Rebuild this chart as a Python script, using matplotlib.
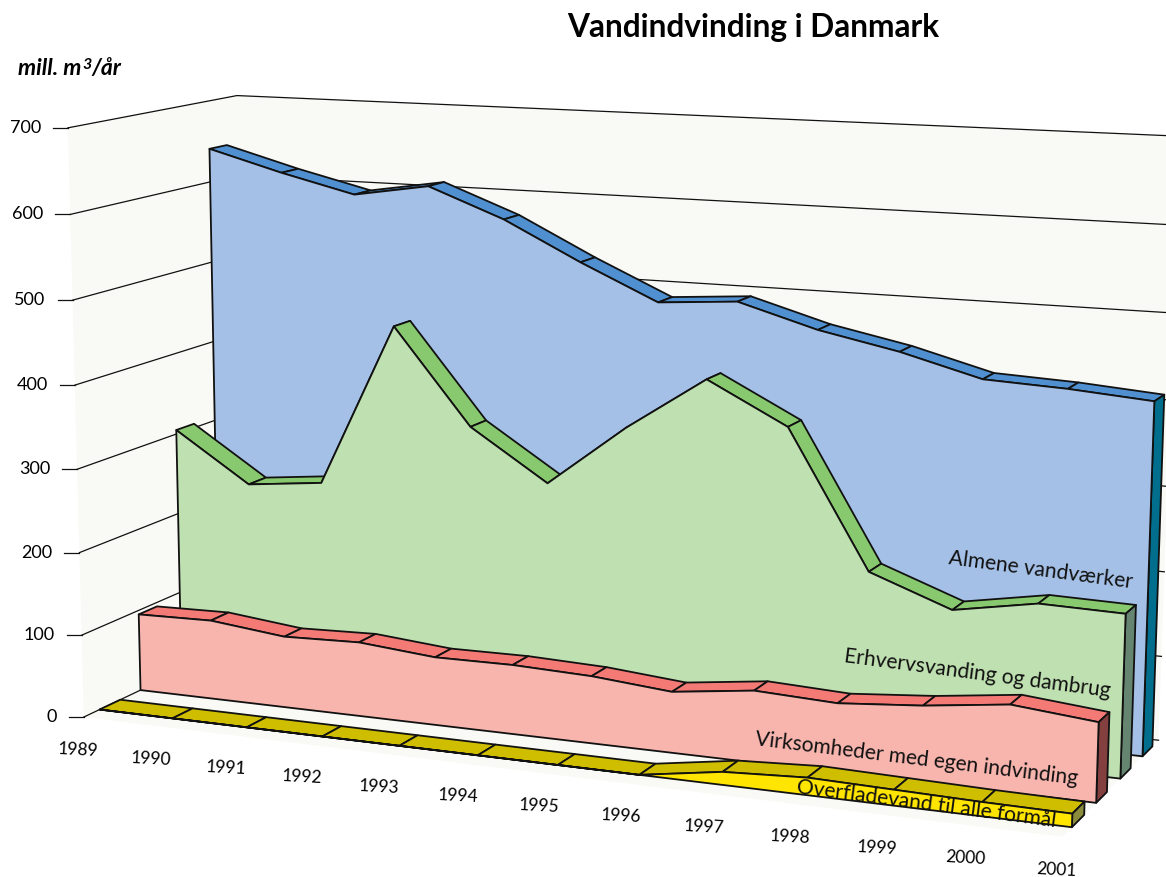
import numpy as np
import matplotlib
matplotlib.use('Agg')
import matplotlib.pyplot as plt

plt.rcParams['font.family'] = ['Lato', 'DejaVu Sans']

# data, mill. m3 per year
years = [1989, 1990, 1991, 1992, 1993, 1994, 1995, 1996, 1997, 1998, 1999, 2000, 2001]
almene = [641, 616, 594, 609, 574, 528, 486, 493, 466, 447, 422, 418, 411]
erhverv = [305, 245, 255, 453, 339, 279, 353, 417, 369, 209, 174, 191, 189]
virksomheder = [95, 97, 87, 90, 82, 83, 80, 72, 84, 80, 88, 100, 91]
overflade = [0, 0, 0, 0, 0, 0, 0, 0, 15, 20, 18, 16, 15]
y_ticks = [0, 100, 200, 300, 400, 500, 600, 700]

# camera calibration: (category, value, depth) -> picture position
calibration = [
    (0, 0, 0, 85, 716), (0, 100, 0, 83, 634), (0, 600, 0, 70, 214), (0, 700, 0, 68, 127),
    (0, 700, 1, 237, 96), (12, 700, 1, 1180, 136.6), (12, 600, 1, 1176, 225), (12, 400, 1, 1169, 401),
    (12, 0, 1, 1159, 737), (0, 0, .33, 141, 690), (12, 0, .33, 1097, 802), (12, 0, .44, 1107, 793),
    (12, 0, .09, 1072, 826), (12, 0, .21, 1083, 817), (12, 0, .58, 1121, 778), (12, 0, .69, 1130, 770),
    (12, 0, .82, 1143, 755), (12, 0, .93, 1153, 747), (0, 0, .09, 100, 710), (0, 0, .21, 119, 702),
    (1, 0, .09, 173, 718), (2, 0, .09, 246, 727), (7, 0, .09, 638, 776), (0, 300, .82, 215, 420),
    (0, 200, .58, 177, 514), (0, 100, .58, 179, 593), (0, 600, .82, 210, 182), (0, 500, .82, 212, 262),
]


def fit_projection(pts):
    A, b = [], []
    for t, v, d, u, w in pts:
        X = [t, v / 100, d, 1]
        A.append(X + [0, 0, 0, 0] + [-u * X[0], -u * X[1], -u * X[2]])
        b.append(u)
        A.append([0, 0, 0, 0] + X + [-w * X[0], -w * X[1], -w * X[2]])
        b.append(w)
    p = np.linalg.lstsq(np.array(A, float), np.array(b, float), rcond=None)[0]
    return np.append(p, 1).reshape(3, 4)


P = fit_projection(calibration)


def project(t, v, d):
    q = P @ np.array([t, v / 100, d, 1.0])
    return q[0] / q[2], q[1] / q[2]


fig = plt.figure(figsize=(11.66, 8.77), dpi=100)
ax = fig.add_axes([0, 0, 1, 1])
ax.set_xlim(0, 1166)
ax.set_ylim(877, 0)
ax.axis('off')

last = len(years) - 1
wall = '#F9FAF5'
line = '#111111'

# walls and floor
for corners in [[(0, 0, 0), (0, 700, 0), (0, 700, 1), (0, 0, 1)],
                [(0, 0, 1), (0, 700, 1), (last, 700, 1), (last, 0, 1)],
                [(0, 0, 0), (0, 0, 1), (last, 0, 1), (last, 0, 0)]]:
    ax.fill(*zip(*[project(*c) for c in corners]), color=wall, lw=0, zorder=1)

# gridlines and value axis
for v in y_ticks:
    pts = [project(0, v, 0), project(0, v, 1), project(last, v, 1)]
    ax.plot(*zip(*pts), color=line, lw=0.9, zorder=2)
    x0, y0 = pts[0]
    ax.plot([x0 - 15, x0], [y0, y0], color=line, lw=0.9, zorder=2)
    ax.text(x0 - 27, y0, str(v), ha='right', va='center', fontsize=13, color='black', zorder=10)

# back to front: front colour, top colour, end colour, depth
series = [
    (almene, '#A4C0E6', '#5090D0', '#006E8C', .82, .93),
    (erhverv, '#BFE0B0', '#88C86E', '#668570', .58, .69),
    (virksomheder, '#F7B5AE', '#F47A76', '#84403F', .33, .44),
    (overflade, '#FFE500', '#CFBD00', '#8B8B3C', .09, .21),
]

z = 3
for values, c_front, c_top, c_end, d0, d1 in series:
    for i in range(last):
        quad = [project(i, values[i], d0), project(i, values[i], d1),
                project(i + 1, values[i + 1], d1), project(i + 1, values[i + 1], d0)]
        ax.fill(*zip(*quad), facecolor=c_top, edgecolor=line, lw=1.3, joinstyle='round', zorder=z)
    z += 1
    end = [project(last, 0, d0), project(last, values[last], d0),
           project(last, values[last], d1), project(last, 0, d1)]
    ax.fill(*zip(*end), facecolor=c_end, edgecolor=line, lw=1.3, joinstyle='round', zorder=z)
    front = [project(i, values[i], d0) for i in range(last + 1)]
    front += [project(last, 0, d0), project(0, 0, d0)]
    ax.fill(*zip(*front), facecolor=c_front, edgecolor=line, lw=1.3, joinstyle='round', zorder=z)
    z += 1

# year labels below the floor edge
for i, year in enumerate(years):
    x, y = project(i, 0, 0)
    ax.text(x - 6, y + 33, str(year), ha='center', va='center', rotation=-3, fontsize=12.5, color='black', zorder=10)

ax.text(753, 27, 'Vandindvinding i Danmark', ha='center', va='center', fontsize=22.8, fontweight='bold', color='black')

# unit label, the 3 is raised by hand
renderer = fig.canvas.get_renderer()
unit = dict(fontsize=16.5, fontweight='bold', style='italic', color='black', ha='left', va='baseline')
t1 = ax.text(18, 75, 'mill. m', **unit)
x1 = t1.get_window_extent(renderer).x1
t2 = ax.text(x1 + 1, 69, '3', **{**unit, 'fontsize': 11.5})
x2 = t2.get_window_extent(renderer).x1
ax.text(x2, 75, '/år', **unit)

names = [('Almene vandværker', 949, 558, -7.5),
         ('Erhvervsvanding og dambrug', 844, 656, -7.5),
         ('Virksomheder med egen indvinding', 755, 739, -7),
         ('Overfladevand til alle formål', 797, 787, -7.5)]
for name, x, y, rot in names:
    ax.text(x, y, name, ha='left', va='center', rotation=rot, rotation_mode='anchor', fontsize=15.1, color='#111111', zorder=20)

fig.savefig('out.png', dpi=100)
